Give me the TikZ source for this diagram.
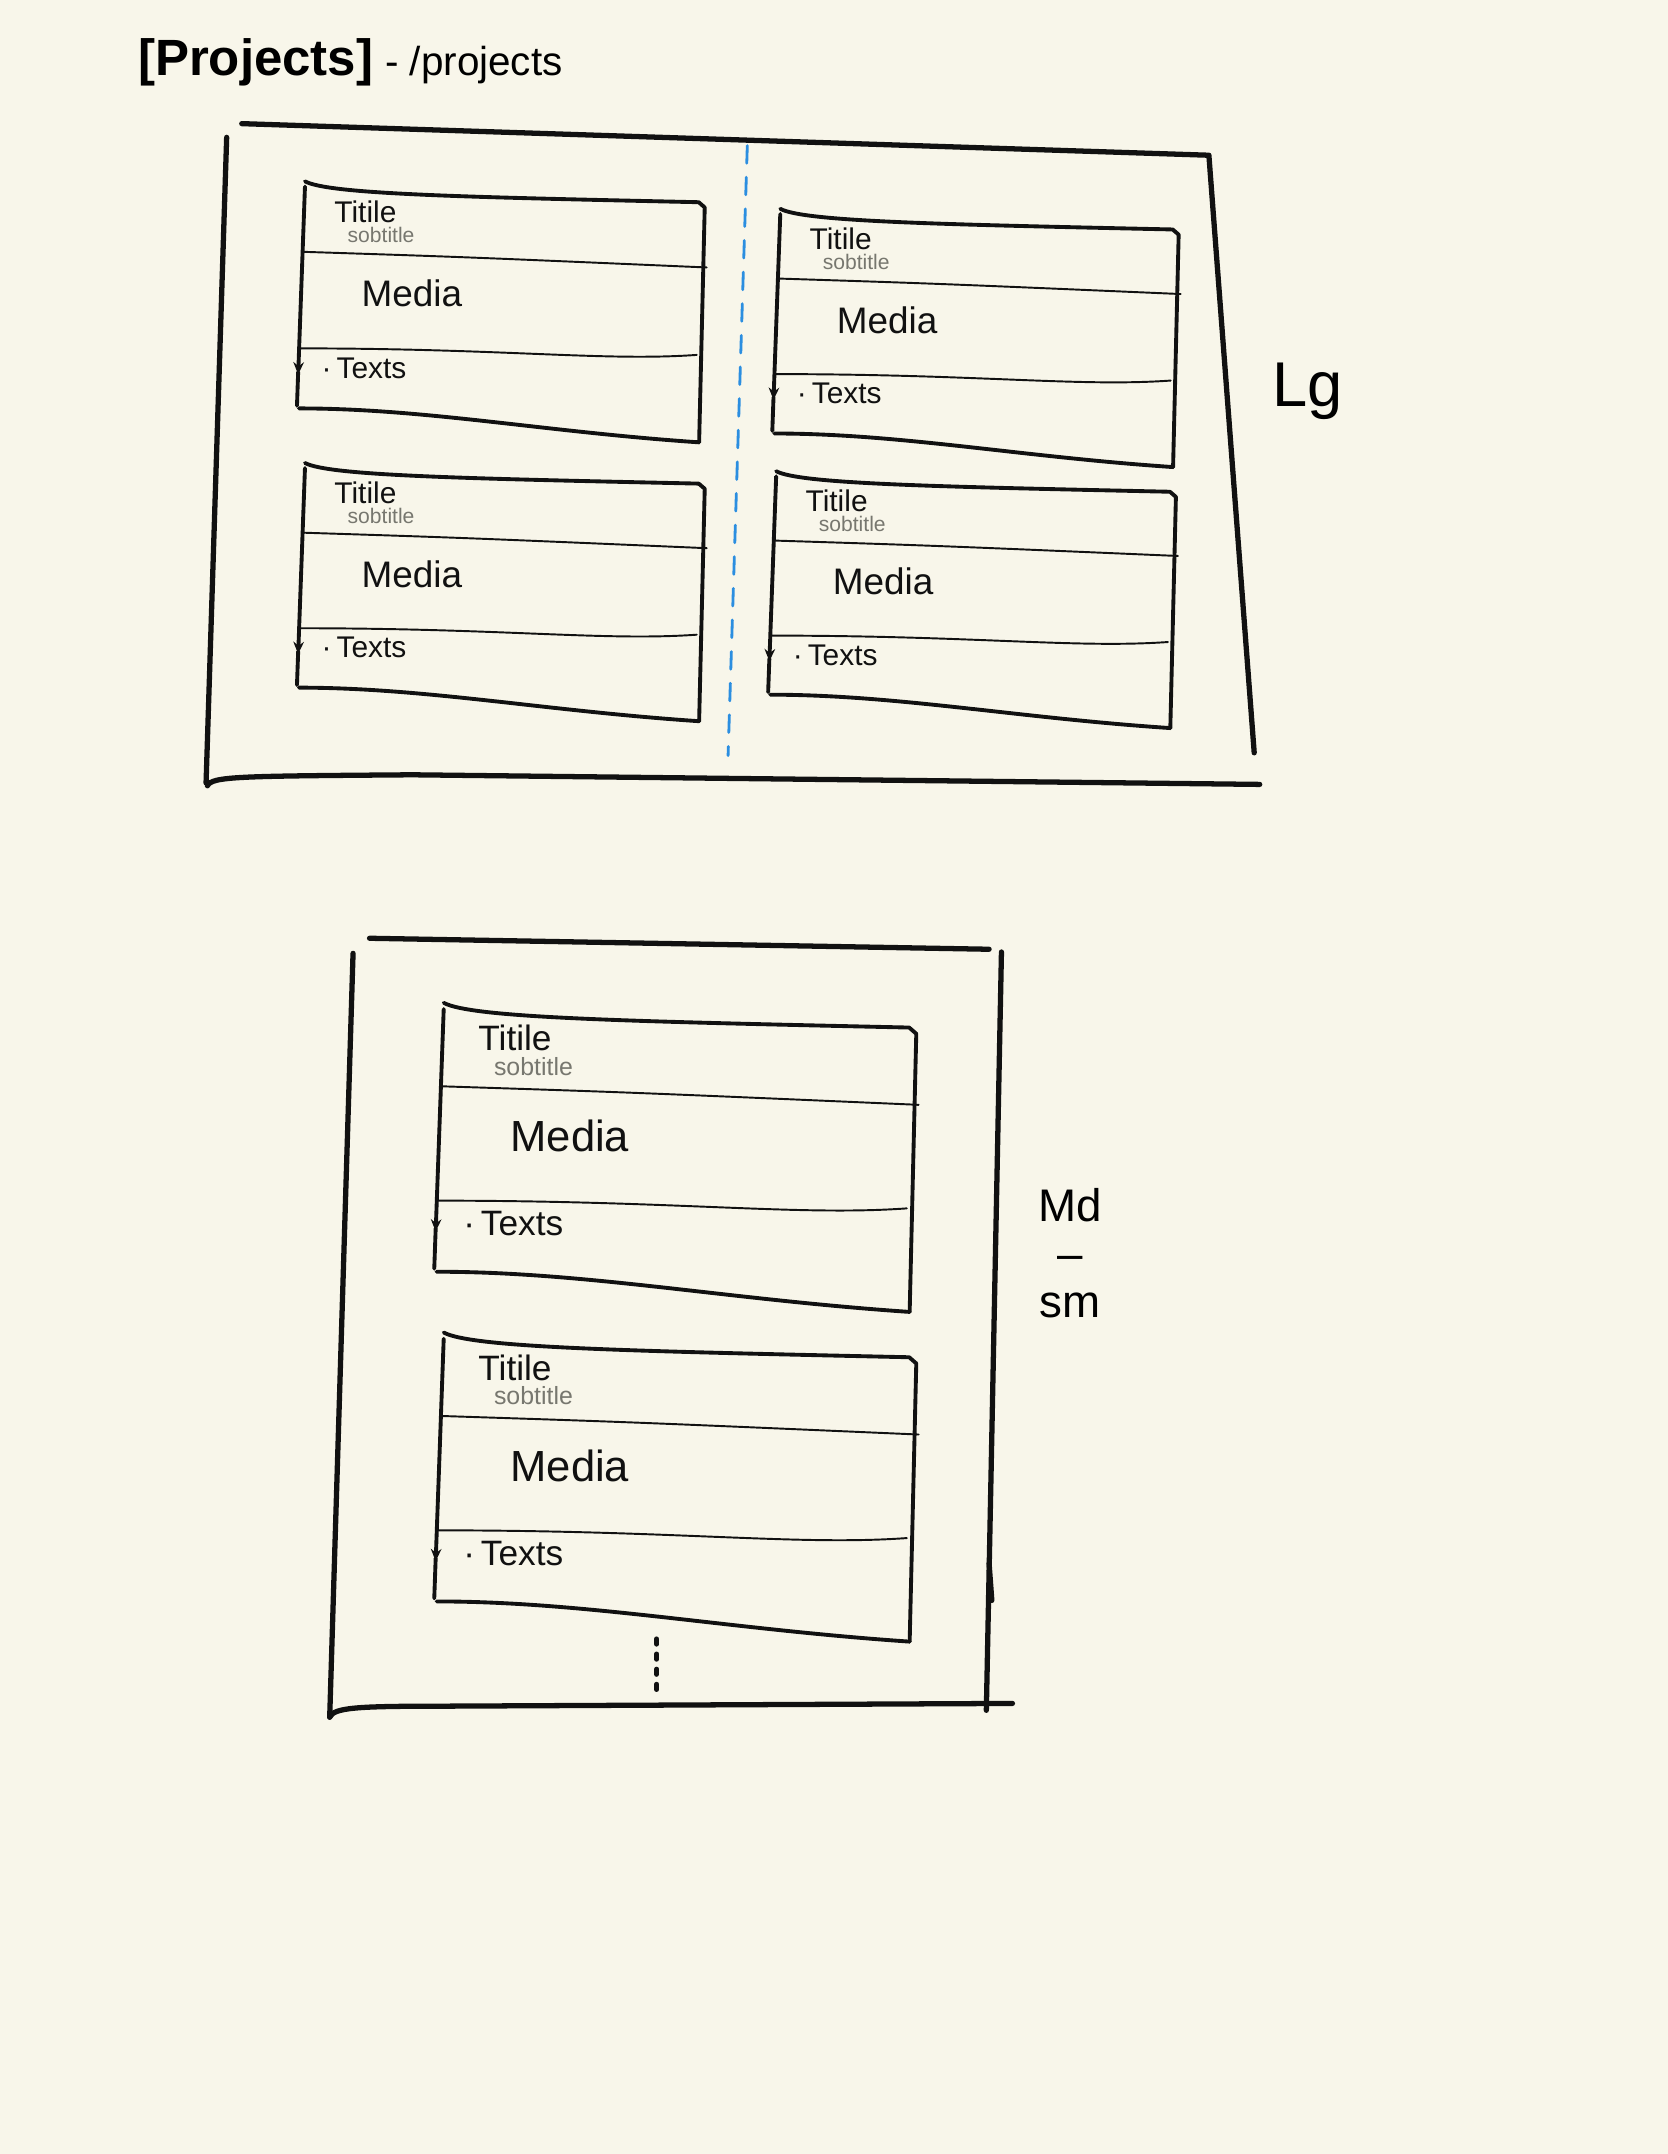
\documentclass[tikz,border=0pt]{standalone}
\usepackage{fontspec}
\setmainfont{Liberation Sans}
\usetikzlibrary{arrows.meta,positioning}

\definecolor{paperbg}   {HTML}{F8F6EA}
\definecolor{inkcolor}  {HTML}{111111}
\definecolor{subcolor}  {HTML}{77776F}
\definecolor{guidecolor}{HTML}{2B8EE0}

\tikzset{
  frameline/.style={draw=inkcolor, line width=1.5pt, line cap=round, line join=round},
  cardline/.style={draw=inkcolor, line width=1.1pt, line cap=round, line join=round},
  rowline/.style={draw=inkcolor, line width=0.55pt, line cap=round},
  guideline/.style={draw=guidecolor, line width=0.8pt, line cap=round, dash pattern=on 5pt off 4pt},
  cardtext/.style={inner sep=0pt, anchor=west, text=inkcolor},
}

%% ── one project card: name, x, y, width, height, text scale ─────────
\newcommand{\projcard}[6]{%
  \begin{scope}[shift={(#2,#3)}]
    % outline
    \draw[cardline] (0,0) .. controls ({0.06*#4},{0.05*#5}) and ({0.4*#4},{0.06*#5})
      .. ({0.985*#4},{0.08*#5}) -- ({#4},{0.1*#5}) -- ({0.986*#4},{#5});
    \draw[cardline, -{Stealth[length=3.5pt,width=3pt]}] (0,{0.02*#5}) -- ({-0.017*#4},{0.74*#5});
    \draw[cardline] ({-0.017*#4},{0.73*#5}) -- ({-0.02*#4},{0.86*#5});
    \draw[cardline] ({-0.015*#4},{0.87*#5}) .. controls ({0.3*#4},{0.87*#5}) and ({0.6*#4},{0.96*#5})
      .. ({0.986*#4},{#5});
    % rows
    \draw[rowline] ({-0.005*#4},{0.27*#5}) .. controls ({0.4*#4},{0.29*#5}) .. ({1.005*#4},{0.33*#5});
    \draw[rowline] ({-0.015*#4},{0.64*#5}) .. controls ({0.5*#4},{0.64*#5}) and ({0.75*#4},{0.69*#5})
      .. ({0.98*#4},{0.665*#5});
    % texts
    \node[cardtext, font=\fontsize{\fpeval{8.5*#6}}{\fpeval{8.5*#6}}\selectfont]
      (#1-title) at ({0.072*#4},{0.115*#5}) {Titile};
    \node[cardtext, text=subcolor, font=\fontsize{\fpeval{6*#6}}{\fpeval{6*#6}}\selectfont]
      (#1-sub) at ({0.105*#4},{0.205*#5}) {sobtitle};
    \node[cardtext, font=\fontsize{\fpeval{10.5*#6}}{\fpeval{10.5*#6}}\selectfont]
      (#1-media) at ({0.14*#4},{0.43*#5}) {Media};
    \node[cardtext, font=\fontsize{\fpeval{8.5*#6}}{\fpeval{8.5*#6}}\selectfont]
      (#1-texts) at ({0.04*#4},{0.715*#5}) {·\,Texts};
  \end{scope}}

\begin{document}
\begin{tikzpicture}[x=0.01374cm, y=-0.01374cm]
\fill[paperbg] (0,0) rectangle (1214,1568);
\useasboundingbox (0,0) rectangle (1214,1568);

%% ── page title ───────────────────────────────────────────────────
\node[anchor=base west, inner sep=0pt, font=\fontsize{14.5}{14.5}\selectfont\bfseries]
  (pagetitle) at (100,55) {[Projects]};
\node[right=3pt of pagetitle.base east, anchor=base west, inner sep=0pt,
  font=\fontsize{11.5}{11.5}\selectfont] (pageroute) {- /projects};

%% ── Lg layout: two columns ───────────────────────────────────────
\draw[frameline] (176,90) -- (880,113) -- (913,548);
\draw[frameline] (165,100) -- (150,570);
\draw[frameline] (151,572) .. controls (154,565) and (175,565) .. (300,564) -- (917,571);
\draw[guideline] (544,106) -- (530,550);

\projcard{lgA}{222}{132}{291}{190}{1}
\projcard{lgB}{568}{152}{290}{188}{1}
\projcard{lgC}{222}{337}{291}{188}{1}
\projcard{lgD}{565}{343}{291}{187}{1}

\node[inner sep=0pt, font=\fontsize{18}{18}\selectfont] (lglabel) at (952,285) {Lg};

%% ── Md / sm layout: one column ───────────────────────────────────
\draw[frameline] (269,683) -- (720,691);
\draw[frameline] (729,693) -- (718,1245);
\draw[frameline] (720,1138) -- (722,1165);
\draw[frameline] (257,694) -- (240,1250);
\draw[frameline] (240,1250) .. controls (243,1243) and (260,1242) .. (320,1242) -- (737,1240);

\projcard{mdA}{323}{730}{344}{225}{1.18}
\projcard{mdB}{323}{970}{344}{225}{1.18}

\draw[inkcolor, line width=1.4pt, line cap=round, dash pattern=on 1.5pt off 2.8pt] (478,1193) -- (478,1236);

\node[inner sep=0pt, align=center, font=\fontsize{13}{13.6}\selectfont]
  (mdlabel) at (779,912) {Md\\–\\sm};
\end{tikzpicture}
\end{document}
